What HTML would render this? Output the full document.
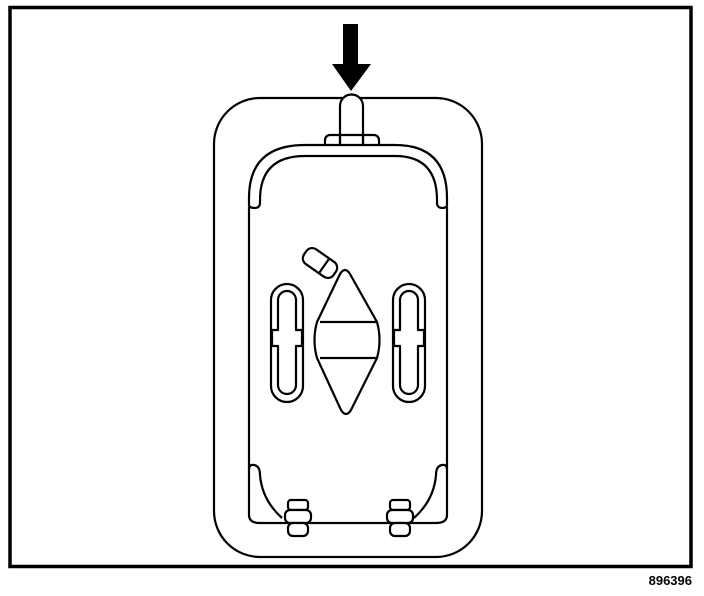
<!DOCTYPE html>
<html><head><style>body{margin:0;background:#fff}svg{display:block}</style></head><body>
<svg width="704" height="596" viewBox="0 0 704 596" xmlns="http://www.w3.org/2000/svg">
<rect width="704" height="596" fill="#fff"/>
<rect x="10" y="7.5" width="681" height="559" fill="none" stroke="#000" stroke-width="3.5"/>
<text x="692" y="585" text-anchor="end" font-family="Liberation Sans, sans-serif" font-weight="bold" font-size="13">896396</text>
<g fill="none" stroke="#000" stroke-width="2.2" stroke-linejoin="round">
<rect x="214" y="98" width="268" height="459" rx="46"/>
<path d="M340,145 V106 a11.5,11.5 0 0 1 23,0 V145" fill="#fff"/>
<path d="M325,145 V140 a5,5 0 0 1 5,-5 H374 a5,5 0 0 1 5,5 V145"/>
<line x1="340" y1="135" x2="340" y2="145"/><line x1="363" y1="135" x2="363" y2="145"/>
<path d="M249,207 V515 Q249,523 260,523 H436 Q447,523 447,515 V207"/>
<path d="M249,205 V198 Q249,145 305,145 H395 Q447,145 447,198 V205 Q447,208 442,208 Q438,208 437,204 V200 Q437,156 395,156 H305 Q260,156 260,200 V204 Q259,208 255,208 Q249,208 249,205"/>
<path d="M249,470 Q249,464 254,465 Q260,466 260,475 Q262,500 282,518"/>
<path d="M447,470 Q447,464 442,465 Q436,466 436,475 Q434,500 414,518"/>
<g fill="#fff">
<rect x="288" y="500" width="20" height="10" rx="3"/>
<rect x="285" y="510" width="26" height="13" rx="5"/>
<rect x="288" y="523" width="20" height="13" rx="5"/>
<rect x="390" y="500" width="20" height="10" rx="3"/>
<rect x="387" y="510" width="26" height="13" rx="5"/>
<rect x="390" y="523" width="20" height="13" rx="5"/>
</g>
<rect x="271" y="284" width="32" height="118" rx="16"/>
<path d="M278,300 a9,9 0 0 1 18,0 V330 H302 V346 H296 V385 a9,9 0 0 1 -18,0 V346 H272 V330 H278 Z"/>
<rect x="393" y="284" width="32" height="118" rx="16"/>
<path d="M400,300 a9,9 0 0 1 18,0 V330 H424 V346 H418 V385 a9,9 0 0 1 -18,0 V346 H394 V330 H400 Z"/>
<path d="M340,274 Q345,266 350,274 L377,322 Q382,340 377,358 L351,410 Q346,418 341,410 L317,358 Q312,340 317,322 Z"/>
<line x1="320" y1="322" x2="376" y2="322"/><line x1="320" y1="358" x2="376" y2="358"/>
<g transform="translate(320,263) rotate(35)">
<rect x="-18" y="-9" width="36" height="18" rx="7"/>
<line x1="5" y1="-9" x2="5" y2="9"/>
</g>
</g>
<path d="M343,24 H358 V64 H371 L351,91 L332,64 H343 Z" fill="#000"/>
</svg>
</body></html>
